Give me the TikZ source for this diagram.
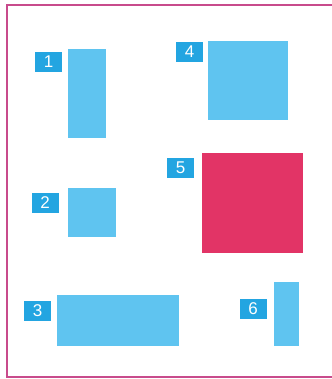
\documentclass[tikz,border=0pt]{standalone}
\usepackage{fontspec}
\setmainfont{Liberation Sans}
\usepackage{tikz}

\definecolor{skyblue}{RGB}{95,196,240}
\definecolor{tagblue}{RGB}{35,165,225}
\definecolor{rosered}{RGB}{226,52,102}
\definecolor{framepink}{RGB}{200,75,140}

\begin{document}
\begin{tikzpicture}[
    x=1pt, y=-1pt,
    block/.style={fill=skyblue, inner sep=0pt},
    hot/.style={fill=rosered, inner sep=0pt},
    tag/.style={fill=tagblue, text=white, inner sep=0pt, minimum width=27pt, minimum height=20pt, font=\fontsize{17}{17}\selectfont}
]
\useasboundingbox (0,0) rectangle (331,379);
\draw[framepink, line width=1.5pt] (345,5) -- (7,5) -- (7,377) -- (345,377);
\node[block, minimum width=38pt, minimum height=89pt] (r1) at (87,93.5) {};
\node[block, minimum width=48pt, minimum height=49pt] (r2) at (92,212.5) {};
\node[block, minimum width=122pt, minimum height=51pt] (r3) at (118,320.5) {};
\node[block, minimum width=80pt, minimum height=79pt] (r4) at (248,80.5) {};
\node[hot, minimum width=101pt, minimum height=100pt] (r5) at (252.5,203) {};
\node[block, minimum width=25pt, minimum height=64pt] (r6) at (286.5,314) {};
\node[tag] (t1) at (48.5,62) {1};
\node[tag] (t2) at (45,202.5) {2};
\node[tag] (t3) at (37.5,310.5) {3};
\node[tag] (t4) at (189.5,52) {4};
\node[tag] (t5) at (180.5,168) {5};
\node[tag] (t6) at (253,309) {6};
\end{tikzpicture}
\end{document}
